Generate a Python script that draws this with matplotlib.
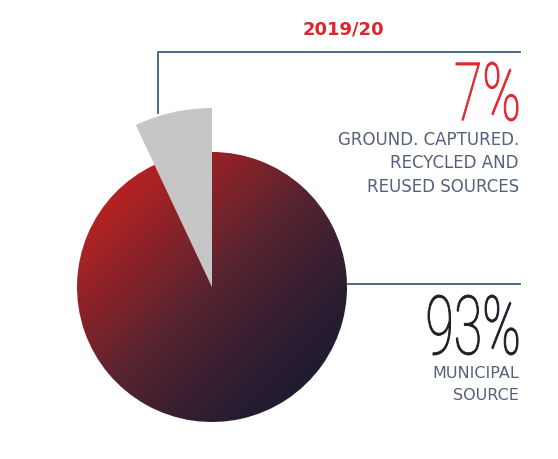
import matplotlib
matplotlib.use("Agg")
import matplotlib.pyplot as plt
import numpy as np
from matplotlib.colors import LinearSegmentedColormap
from matplotlib.textpath import TextPath
from matplotlib.patches import PathPatch
from matplotlib.font_manager import FontProperties
from matplotlib.transforms import Affine2D

# data
labels = ["Ground, captured, recycled and reused sources", "Municipal source"]
shares = [7, 93]
share_labels = ["7%", "93%"]
captions = [["GROUND. CAPTURED.", "RECYCLED AND", "REUSED SOURCES"],
            ["MUNICIPAL", "SOURCE"]]
title = "2019/20"

W, H = 558, 459
fig = plt.figure(figsize=(W / 100, H / 100), dpi=100)
ax = fig.add_axes([0, 0, 1, 1])

cx, cy = 212, H - 287
r_main = 135
r_small = 179

wedges, _ = ax.pie(shares, startangle=90, counterclock=True, center=(cx, cy),
                   radius=r_main, colors=["#c6c6c6", "none"], frame=True)
ax.set_xlim(0, W)
ax.set_ylim(0, H)
ax.set_aspect("equal")
ax.axis("off")
wedges[0].set_radius(r_small)

# diagonal gradient for the big slice (red top-left -> navy bottom-right)
cmap = LinearSegmentedColormap.from_list(
    "grad", [(0, "#d42020"), (0.2, "#a82224"), (0.5, "#562430"), (0.75, "#2a1d30"), (1, "#111a30")])
gx, gy = np.meshgrid(np.linspace(0, 1, 300), np.linspace(0, 1, 300))
grad = (gx + gy) / 2
img = ax.imshow(grad, cmap=cmap, extent=[cx - r_main, cx + r_main, cy - r_main, cy + r_main],
                origin="upper", zorder=1, interpolation="bilinear")
wedges[1].set_facecolor("none")
img.set_clip_path(wedges[1])

# leader lines
line_col = "#3d5f80"
ax.plot([158, 158, 520], [H - 113, H - 52, H - 52], color=line_col, lw=1.3, zorder=3)
ax.plot([348, 520], [H - 284, H - 284], color=line_col, lw=1.3, zorder=3)

ax.text(343, H - 30, title, color="#e0242a", fontsize=13, fontweight="bold",
        family="DejaVu Sans", ha="center", va="center")


def condensed(s, x_right, y_base, height, width, color):
    fp = FontProperties(family=["Roboto", "DejaVu Sans"], weight="light")
    tp = TextPath((0, 0), s, size=100, prop=fp)
    ext = tp.get_extents()
    sx = width / ext.width
    sy = height / ext.height
    tr = Affine2D().translate(-ext.x1, -ext.y0).scale(sx, sy).translate(x_right, y_base)
    ax.add_patch(PathPatch(tr.transform_path(tp), facecolor=color, edgecolor=color,
                           lw=0.7, zorder=4))


condensed(share_labels[0], 518, H - 121, 59, 62, "#e3262d")
condensed(share_labels[1], 518, H - 355, 60, 90, "#1e1e28")

cap_col = "#55607a"
for i, line in enumerate(captions[0]):
    ax.text(519, H - 140 - i * 23.5, line, color=cap_col, fontsize=12,
            family="DejaVu Sans", ha="right", va="center")
for i, line in enumerate(captions[1]):
    ax.text(519, H - 373 - i * 23, line, color=cap_col, fontsize=11.5,
            family="DejaVu Sans", ha="right", va="center")

fig.savefig("out.png", dpi=100)
